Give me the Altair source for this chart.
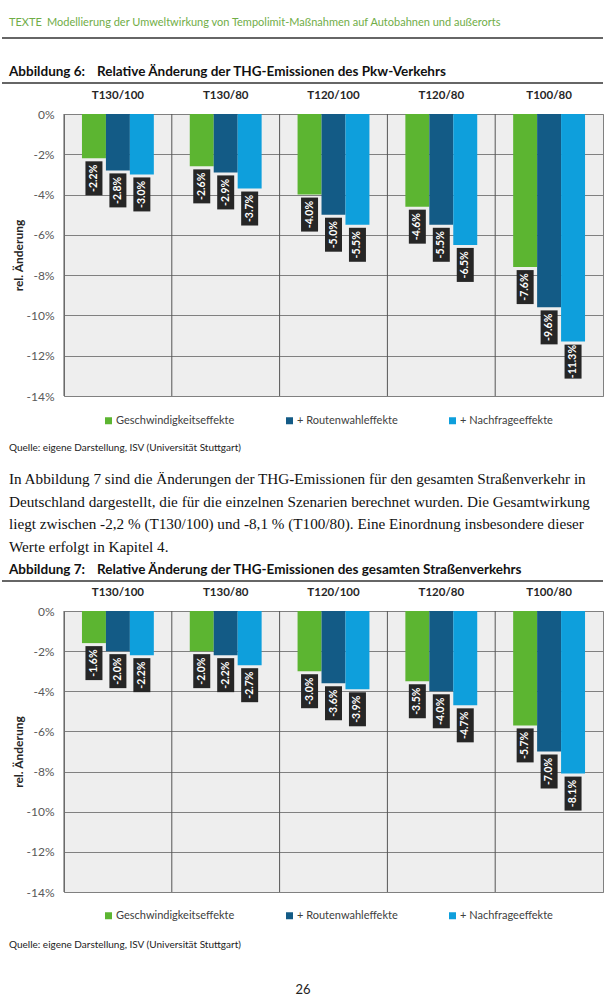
import altair as alt
import pandas as pd

# ---------------- data ----------------
scenarios = ["T130/100", "T130/80", "T120/100", "T120/80", "T100/80"]
series = ["Geschwindigkeitseffekte", "+ Routenwahleffekte", "+ Nachfrageeffekte"]
colors = ["#5cb531", "#135b86", "#0e9fdc"]

# Abbildung 6: Pkw-Verkehr
pkw_speed = [-2.2, -2.6, -4.0, -4.6, -7.6]
pkw_route = [-2.8, -2.9, -5.0, -5.5, -9.6]
pkw_demand = [-3.0, -3.7, -5.5, -6.5, -11.3]

# Abbildung 7: gesamter Straßenverkehr
all_speed = [-1.6, -2.0, -3.0, -3.5, -5.7]
all_route = [-2.0, -2.2, -3.6, -4.0, -7.0]
all_demand = [-2.2, -2.7, -3.9, -4.7, -8.1]

y_ticks = [0, -2, -4, -6, -8, -10, -12, -14]

header_left = "TEXTE"
header_right = "Modellierung der Umweltwirkung von Tempolimit-Maßnahmen auf Autobahnen und außerorts"
fig6_num = "Abbildung 6:"
fig6_title = "Relative Änderung der THG-Emissionen des Pkw-Verkehrs"
fig7_num = "Abbildung 7:"
fig7_title = "Relative Änderung der THG-Emissionen des gesamten Straßenverkehrs"
source_text = "Quelle: eigene Darstellung, ISV (Universität Stuttgart)"
paragraph = [
    "In Abbildung 7 sind die Änderungen der THG-Emissionen für den gesamten Straßenverkehr in",
    "Deutschland dargestellt, die für die einzelnen Szenarien berechnet wurden. Die Gesamtwirkung",
    "liegt zwischen -2,2 % (T130/100) und -8,1 % (T100/80). Eine Einordnung insbesondere dieser",
    "Werte erfolgt in Kapitel 4.",
]
page_number = "26"
y_title = "rel. Änderung"

SANS = "Lato"
SERIF = "Liberation Serif"
W = 539


def make_df(speed, route, demand):
    rows = []
    for vals, s in zip([speed, route, demand], series):
        for sc, v in zip(scenarios, vals):
            rows.append({"scen": sc, "series": s, "value": v, "label": f"{v:.1f}%"})
    return pd.DataFrame(rows)


def txt(s, x, y, size=11, color="#222222", weight="normal", font=SANS, align="left"):
    return alt.Chart(pd.DataFrame({"t": [s]})).mark_text(
        font=font, fontSize=size, color=color, fontWeight=weight, align=align, baseline="middle"
    ).encode(x=alt.value(x), y=alt.value(y), text="t:N")


def hline(y, x1=-62, x2=539, color="#333333", width=1.6):
    return alt.Chart(pd.DataFrame({"a": [0]})).mark_rule(color=color, strokeWidth=width).encode(
        x=alt.value(x1), x2=alt.value(x2), y=alt.value(y)
    )


def bar_chart(df, H, extras, legend_y):
    x_enc = alt.X(
        "scen:N", sort=scenarios, title=None,
        scale=alt.Scale(paddingInner=0, paddingOuter=0),
        axis=None,
    )
    xo = alt.XOffset("series:N", sort=series,
                     scale=alt.Scale(paddingInner=0, paddingOuter=0.75))
    y_enc = alt.Y(
        "value:Q",
        scale=alt.Scale(domain=[-14, 0], nice=False),
        axis=alt.Axis(values=y_ticks, labelExpr="datum.value + '%'", grid=True,
                      gridColor="#808080", gridWidth=1, ticks=False, tickSize=0, domain=False,
                      labelFont=SANS, labelFontSize=12, labelColor="#595959", labelPadding=10,
                      title=y_title, titleFont=SANS, titleFontSize=12, titleFontWeight="bold",
                      titleColor="#262626", titleX=-46, titleY=H / 2, titleAngle=270,
                      titleAlign="center", titleBaseline="middle"),
    )
    color = alt.Color(
        "series:N", sort=series,
        scale=alt.Scale(domain=series, range=colors),
        legend=alt.Legend(orient="none", legendX=39, legendY=legend_y, direction="horizontal",
                          title=None, symbolType="square", symbolSize=49, symbolStrokeWidth=0,
                          labelFont=SANS, labelFontSize=11, labelColor="#404040",
                          columnPadding=49, labelOffset=2, padding=0),
    )

    scen_df = pd.DataFrame({"scen": scenarios})
    dividers = alt.Chart(scen_df).mark_rule(color="#555555", strokeWidth=1).encode(
        x=alt.X("scen:N", sort=scenarios, bandPosition=0, axis=None)
    )
    headers = alt.Chart(scen_df).mark_text(
        font=SANS, fontSize=11.5, fontWeight="bold", color="#262626",
        align="center", baseline="middle"
    ).encode(x=x_enc, y=alt.value(-18), text="scen:N")

    base = alt.Chart(df)
    bars = base.mark_bar().encode(x=x_enc, xOffset=xo, y=y_enc, color=color)
    boxes = base.mark_bar(color="#262626", width=17, yOffset=3, y2Offset=37).encode(
        x=x_enc, xOffset=xo, y=y_enc, y2="value:Q"
    )
    labels = base.mark_text(angle=270, color="white", font=SANS, fontSize=10.5,
                            fontWeight="bold", align="center", baseline="middle",
                            yOffset=20).encode(x=x_enc, xOffset=xo, y=y_enc, text="label:N")
    return alt.layer(dividers, bars, boxes, labels, headers, *extras).properties(width=W, height=H)


df6 = make_df(pkw_speed, pkw_route, pkw_demand)
df7 = make_df(all_speed, all_route, all_demand)

extras1 = [
    hline(-113, color="white", width=1),
    txt(header_left, -55, -91, size=11, color="#70ad47"),
    txt(header_right, -17, -91, size=11, color="#70ad47"),
    hline(-76),
    txt(fig6_num, -55, -42, size=13.5, weight="bold", color="#111111"),
    txt(fig6_title, 33, -42, size=13.5, weight="bold", color="#111111"),
    hline(-31),
    txt(source_text, -55, 334, size=10),
] + [txt(line, -55, 365 + i * 22.5, size=15.2, font=SERIF, color="#111111")
     for i, line in enumerate(paragraph)]

extras2 = [
    txt(fig7_num, -55, -41, size=13.5, weight="bold", color="#111111"),
    txt(fig7_title, 33, -41, size=13.5, weight="bold", color="#111111"),
    hline(-30),
    txt(source_text, -55, 334, size=10),
    txt(page_number, 239, 379, size=13, align="center"),
]

c1 = bar_chart(df6, 282, extras1, 301)
c2 = bar_chart(df7, 281, extras2, 299)

chart = (
    alt.vconcat(c1, c2, spacing=215, bounds="flush")
    .resolve_scale(color="independent", x="independent", y="independent")
    .resolve_legend(color="independent")
    .properties(padding=0, background="white")
    .configure_view(fill="#eeeeee", stroke="#808080", strokeWidth=1)
)

chart.save("out.html", embed_options={"renderer": "svg", "actions": False})
